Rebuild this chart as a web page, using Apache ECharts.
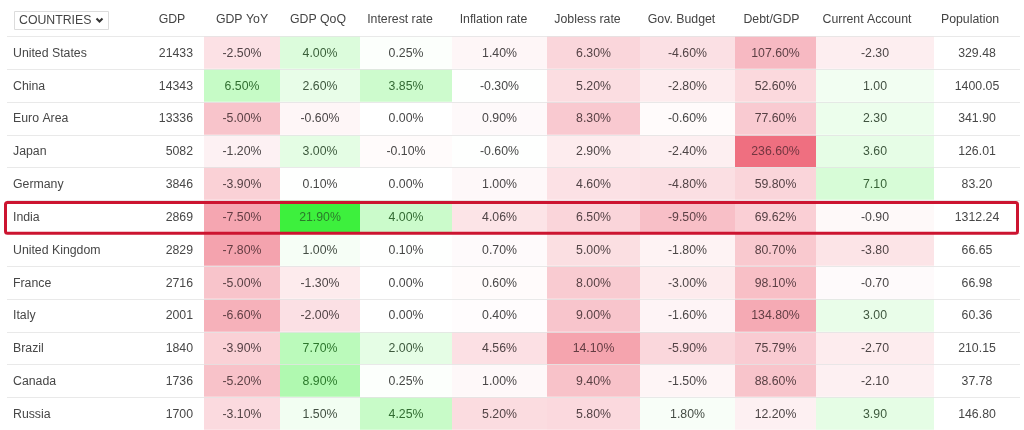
<!DOCTYPE html>
<html><head><meta charset="utf-8">
<script src="https://cdn.jsdelivr.net/npm/echarts@6/dist/echarts.min.js"></script>
<style>html,body{margin:0;padding:0;background:#fff}#c{width:1024px;height:430px}</style>
</head><body><div id="c"></div>
<script>
// ---- data ----
const countries = ['United States','China','Euro Area','Japan','Germany','India','United Kingdom','France','Italy','Brazil','Canada','Russia'];
const gdp = [21433,14343,13336,5082,3846,2869,2829,2716,2001,1840,1736,1700];
const gdpYoY = [-2.50,6.50,-5.00,-1.20,-3.90,-7.50,-7.80,-5.00,-6.60,-3.90,-5.20,-3.10];
const gdpQoQ = [4.00,2.60,-0.60,3.00,0.10,21.90,1.00,-1.30,-2.00,7.70,8.90,1.50];
const interestRate = [0.25,3.85,0.00,-0.10,0.00,4.00,0.10,0.00,0.00,2.00,0.25,4.25];
const inflationRate = [1.40,-0.30,0.90,-0.60,1.00,4.06,0.70,0.60,0.40,4.56,1.00,5.20];
const joblessRate = [6.30,5.20,8.30,2.90,4.60,6.50,5.00,8.00,9.00,14.10,9.40,5.80];
const govBudget = [-4.60,-2.80,-0.60,-2.40,-4.80,-9.50,-1.80,-3.00,-1.60,-5.90,-1.50,1.80];
const debtToGdp = [107.60,52.60,77.60,236.60,59.80,69.62,80.70,98.10,134.80,75.79,88.60,12.20];
const currentAccount = [-2.30,1.00,2.30,3.60,7.10,-0.90,-3.80,-0.70,3.00,-2.70,-2.10,3.90];
const population = [329.48,1400.05,341.90,126.01,83.20,1312.24,66.65,66.98,60.36,210.15,37.78,146.80];
const headers = ['GDP','GDP YoY','GDP QoQ','Interest rate','Inflation rate','Jobless rate','Gov. Budget','Debt/GDP','Current Account','Population'];
const selectorLabel = 'COUNTRIES';
const highlighted = 'India';

// ---- layout / style ----
const columns = [gdp,gdpYoY,gdpQoQ,interestRate,inflationRate,joblessRate,govBudget,debtToGdp,currentAccount,population];
const EDGES = [7,140,204,280,360,452,547,640,735,816,934,1020];
const HEAD_SHIFT = [0,0,-2,-6,-6,-6,-6,-4,-8,-7];
const FORMAT = ['int','pct','pct','pct','pct','pct','pct','pct','num','num'];
const HEAT = [null,
  {good:1,g:25,r:17},
  {good:1,g:25,r:13},
  {good:1,g:17,r:5},
  {good:-1,g:120,r:30},
  {good:-1,g:60,r:31},
  {good:1,g:60,r:30},
  {good:-1,g:60,r:350,rlo:0.04},
  {good:1,g:50,glo:0.04,r:28},
  null];
const FONT = '"Liberation Sans", Arial, sans-serif';
const FS = 12.3;
const TXT = '#474747';
const RED = '#e8364e', GREEN = '#22ee22';

function heat(c, v) {
  const h = HEAT[c];
  if (!h || v === 0) return {t:0, kind:0};
  const a = Math.abs(v);
  if (v * h.good > 0) return {t: Math.min(1, (h.glo||0) + a / h.g), kind: 1};
  return {t: Math.min(1, (h.rlo||0) + a / h.r), kind: -1};
}
function fmt(c, v) {
  if (FORMAT[c] === 'int') return String(v);
  if (FORMAT[c] === 'pct') return v.toFixed(2) + '%';
  return v.toFixed(2);
}

const cellData = [];
columns.forEach((arr, c) => arr.forEach((v, r) => {
  cellData.push([(EDGES[c+1] + EDGES[c+2]) / 2, r, v, c]);
}));
const rowData = countries.map((n, r) => [EDGES[0], r]);

const chart = echarts.init(document.getElementById('c'), null, {renderer:'canvas'});

const graphic = [
  {type:'rect', shape:{x:14.5,y:11.5,width:94,height:18}, style:{fill:'#fff',stroke:'#dcdcdc',lineWidth:1}},
  {type:'text', x:19, y:21, style:{text:selectorLabel, font:`${FS}px ${FONT}`, fill:'#444', verticalAlign:'middle'}},
  {type:'polyline', shape:{points:[[96.5,18.5],[99.5,21.5],[102.5,18.5]]}, style:{stroke:'#333',lineWidth:2,fill:null}}
];
headers.forEach((h, i) => {
  graphic.push({type:'text', x:(EDGES[i+1]+EDGES[i+2])/2 + HEAD_SHIFT[i], y:20,
    style:{text:h, font:`${FS}px ${FONT}`, fill:'#444', align:'center', verticalAlign:'middle'}});
});

chart.setOption({
  animation:false,
  grid:{left:EDGES[0], right:1024-EDGES[EDGES.length-1], top:36, height:396},
  xAxis:{type:'value', min:EDGES[0], max:EDGES[EDGES.length-1], position:'top',
    axisLine:{show:false}, axisTick:{show:false},
    axisLabel:{show:false}, splitLine:{show:false}},
  yAxis:{type:'category', data:countries, inverse:true,
    axisLine:{show:false}, axisTick:{show:false},
    axisLabel:{show:false}, splitLine:{show:false}},
  graphic: graphic,
  series:[
    {type:'custom', data:cellData, z:2,
     renderItem(params, api) {
       const c = api.value(3), r = api.value(1), v = api.value(2);
       const p0 = api.coord([EDGES[c+1], r]);
       const p1 = api.coord([EDGES[c+2], r]);
       const h = api.size([0, 1])[1];
       const top = Math.round(p0[1] - h/2);
       const ht = heat(c, v);
       let fill = '#ffffff', tc = TXT;
       if (ht.kind === 1) {
         fill = echarts.color.lerp(ht.t, ['#ffffff', GREEN]);
         tc = echarts.color.lerp(Math.min(1, ht.t*3), [TXT, '#2b7a2b']);
       } else if (ht.kind === -1) {
         fill = echarts.color.lerp(ht.t, ['#ffffff', RED]);
         tc = echarts.color.lerp(Math.min(1, ht.t*0.9), [TXT, '#8c2c3c']);
       }
       const isRight = FORMAT[c] === 'int';
       return {type:'group', children:[
         {type:'rect', shape:{x:p0[0], y:top, width:p1[0]-p0[0], height:h}, style:{fill:fill}},
         {type:'text', x: isRight ? p1[0]-11 : (p0[0]+p1[0])/2, y:p0[1]+1,
          style:{text:fmt(c, v), font:`${FS}px ${FONT}`, fill:tc,
                 align: isRight ? 'right' : 'center', verticalAlign:'middle'}}
       ]};
     }},
    {type:'custom', z:3, data:rowData, silent:true,
     renderItem(params, api) {
       const r = api.value(1);
       const pL = api.coord([EDGES[0], r]);
       const pR = api.coord([EDGES[EDGES.length-1], r]);
       const h = api.size([0, 1])[1];
       const top = Math.round(pL[1] - h/2);
       return {type:'group', children:[
         {type:'rect', shape:{x:pL[0], y:top, width:pR[0]-pL[0], height:1},
          style:{fill:'rgba(228,228,228,0.8)'}},
         {type:'text', x:pL[0]+6, y:pL[1]+1,
          style:{text:countries[r], font:`${FS}px ${FONT}`, fill:TXT, align:'left', verticalAlign:'middle'}}
       ]};
     }},
    {type:'custom', z:5, data:[[EDGES[0], countries.indexOf(highlighted)]],
     renderItem(params, api) {
       const r = api.value(1);
       const pL = api.coord([EDGES[0], r]);
       const pR = api.coord([EDGES[EDGES.length-1], r]);
       const h = api.size([0, 1])[1];
       const top = Math.round(pL[1] - h/2);
       return {type:'rect', shape:{x:pL[0]-1.5, y:top+2.5, width:pR[0]-pL[0]-1, height:h-2, r:2},
         style:{fill:null, stroke:'#cc1430', lineWidth:3}};
     }}
  ]
});
</script></body></html>
